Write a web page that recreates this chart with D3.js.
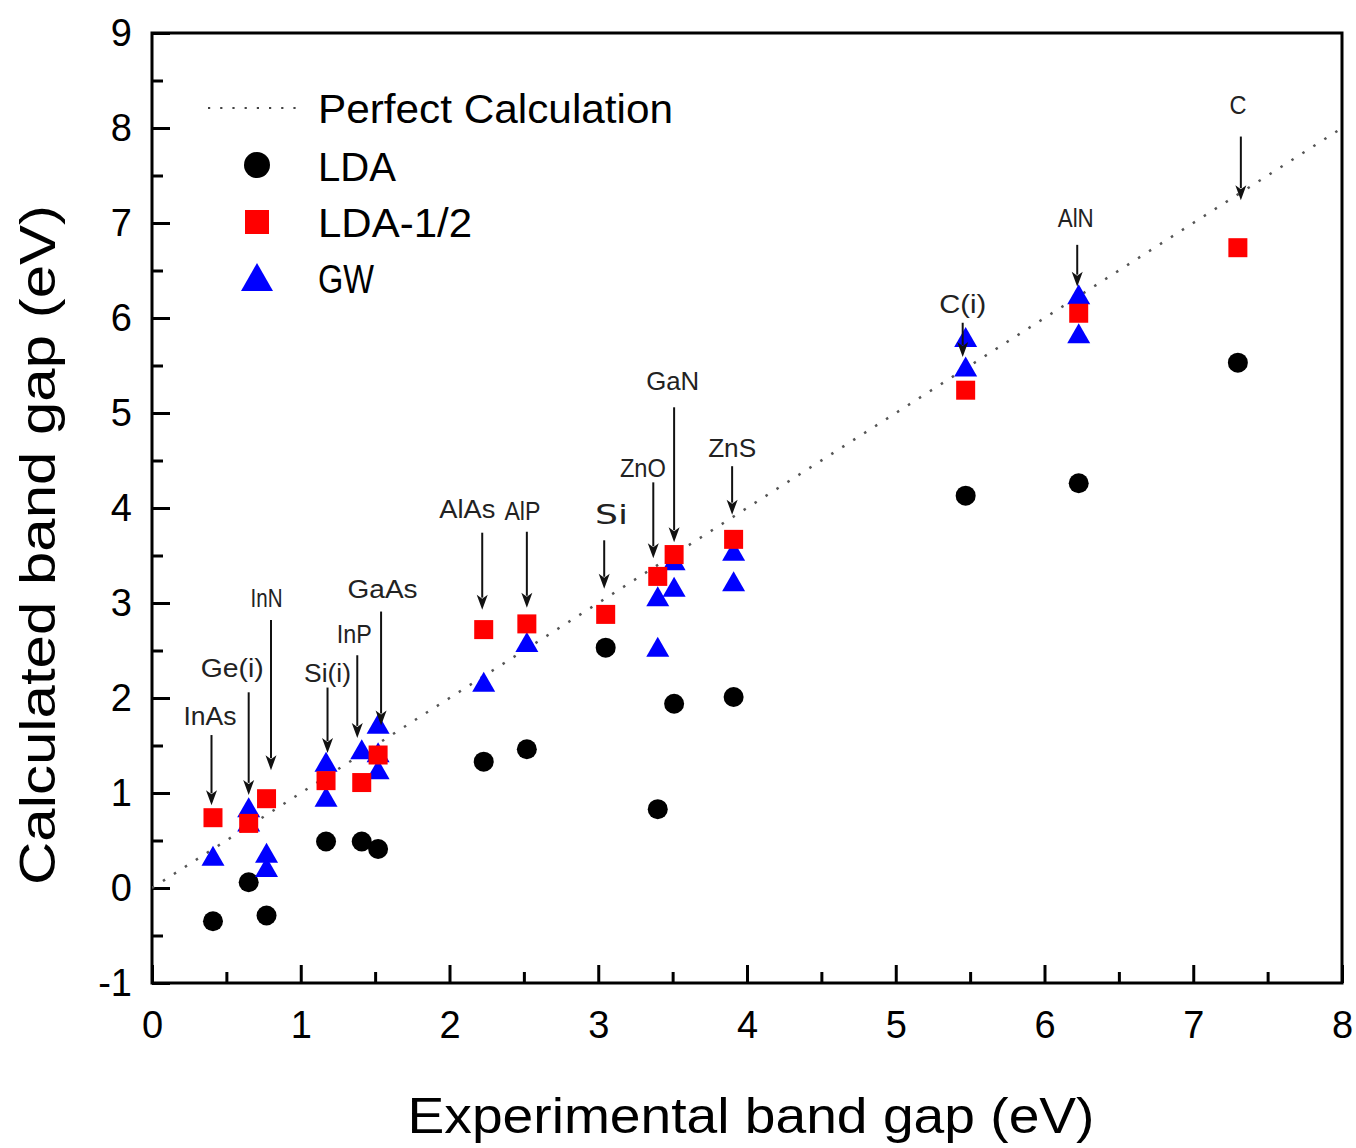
<!DOCTYPE html>
<html>
<head>
<meta charset="utf-8">
<script src="https://cdn.jsdelivr.net/npm/d3@7"></script>
<style>
  html, body { margin: 0; padding: 0; background: #fff; }
  svg { display: block; }
  text { font-family: "Liberation Sans", Arial, sans-serif; }
</style>
</head>
<body>
<svg id="chart" width="1356" height="1148"></svg>
<script>
// ---------------- data ----------------
const materials  = ["InAs","Ge(i)","InN","Si(i)","InP","GaAs","AlAs","AlP","Si","ZnO","GaN","ZnS","C(i)","AlN","C"];
const expGap     = [0.41, 0.65, 0.77, 1.17, 1.41, 1.52, 2.23, 2.52, 3.05, 3.40, 3.51, 3.91, 5.47, 6.23, 7.30];
const ldaGap     = [-0.35, 0.06, -0.29, 0.49, 0.49, 0.41, 1.33, 1.46, 2.53, 0.83, 1.94, 2.01, 4.13, 4.26, 5.53];
const ldaHalfGap = [0.74, 0.68, 0.94, 1.13, 1.11, 1.40, 2.72, 2.78, 2.88, 3.28, 3.51, 3.67, 5.24, 6.05, 6.74];

// GW: some materials have more than one reported value
const gwMaterial = ["InAs","Ge(i)","Ge(i)","InN","InN","Si(i)","Si(i)","InP","GaAs","GaAs","GaAs","AlAs","AlP","ZnO","ZnO","GaN","GaN","ZnS","ZnS","C(i)","C(i)","AlN","AlN"];
const gwGap      = [0.34, 0.85, 0.70, 0.37, 0.22, 1.33, 0.96, 1.46, 1.73, 1.43, 1.25, 2.17, 2.59, 3.07, 2.54, 3.45, 3.17, 3.55, 3.23, 5.80, 5.49, 6.25, 5.84];

// annotation (data units): label x, label baseline y, arrow x, arrow tail y, arrow tip y
const annLabelX = [0.39, 0.54, 0.77, 1.18, 1.36, 1.55, 2.12, 2.49, 3.09, 3.30, 3.50, 3.90, 5.45, 6.21, 7.30];
const annLabelY = [1.72, 2.22, 2.96, 2.17, 2.58, 3.05, 3.89, 3.87, 3.83, 4.33, 5.24, 4.54, 6.05, 6.96, 8.15];
const annArrowX = [0.40, 0.65, 0.80, 1.18, 1.38, 1.54, 2.22, 2.52, 3.04, 3.37, 3.51, 3.90, 5.45, 6.22, 7.32];
const annTail   = [1.61, 2.06, 2.82, 2.11, 2.45, 2.91, 3.74, 3.75, 3.66, 4.27, 5.06, 4.44, 5.95, 6.77, 7.91];
const annTip    = [0.87, 0.98, 1.24, 1.42, 1.58, 1.71, 2.93, 2.95, 3.15, 3.47, 3.64, 3.93, 5.59, 6.33, 7.24];

const xMajor = [0,1,2,3,4,5,6,7,8];
const xMinor = [0.5,1.5,2.5,3.5,4.5,5.5,6.5,7.5];
const yMajor = [-1,0,1,2,3,4,5,6,7,8,9];
const yMinor = [-0.5,0.5,1.5,2.5,3.5,4.5,5.5,6.5,7.5,8.5];

const legendLabels = ["Perfect Calculation","LDA","LDA-1/2","GW"];
const xTitle = "Experimental band gap (eV)";
const yTitle = "Calculated band gap (eV)";

// ---------------- chart ----------------
const svg = d3.select("#chart");
const L = 152, R = 1342, T = 33, B = 983;
const x = d3.scaleLinear().domain([0, 8]).range([L, R]);
const y = d3.scaleLinear().domain([-1, 9]).range([B, T]);

svg.append("defs").append("clipPath").attr("id", "plotclip")
  .append("rect").attr("x", L).attr("y", T).attr("width", R - L).attr("height", B - T);

// axes (ticks inward)
const fmt = d => String(d);
const gx = svg.append("g").attr("transform", `translate(0,${B})`)
  .call(d3.axisBottom(x).tickValues(xMajor).tickSize(-18).tickPadding(28).tickFormat(fmt));
const gxm = svg.append("g").attr("transform", `translate(0,${B})`)
  .call(d3.axisBottom(x).tickValues(xMinor).tickSize(-11).tickFormat(""));
const gy = svg.append("g").attr("transform", `translate(${L},0)`)
  .call(d3.axisLeft(y).tickValues(yMajor).tickSize(-18).tickPadding(20).tickFormat(fmt));
const gym = svg.append("g").attr("transform", `translate(${L},0)`)
  .call(d3.axisLeft(y).tickValues(yMinor).tickSize(-11).tickFormat(""));
[gx, gxm, gy, gym].forEach(g => {
  g.select(".domain").remove();
  g.selectAll(".tick line").attr("stroke", "#000").attr("stroke-width", 3);
  g.selectAll(".tick text").attr("fill", "#000").style("font-size", "38px")
    .style("font-family", '"Liberation Sans", Arial, sans-serif');
});

// frame
svg.append("rect").attr("x", L).attr("y", T).attr("width", R - L).attr("height", B - T)
  .attr("fill", "none").attr("stroke", "#000").attr("stroke-width", 3);

// perfect calculation line
svg.append("line").attr("clip-path", "url(#plotclip)")
  .attr("x1", x(0)).attr("y1", y(0)).attr("x2", x(8)).attr("y2", y(8))
  .attr("stroke", "#555").attr("stroke-width", 2.5)
  .attr("stroke-dasharray", "2.5,10.5").attr("stroke-linecap", "butt");

const plot = svg.append("g");

// LDA circles
plot.selectAll("circle.lda").data(materials).join("circle").attr("class", "lda")
  .attr("cx", (d, i) => x(expGap[i])).attr("cy", (d, i) => y(ldaGap[i]))
  .attr("r", 10).attr("fill", "#000");

// GW triangles
const triPath = (w, h) => `M0,${-h/2}L${w/2},${h/2}L${-w/2},${h/2}Z`;
plot.selectAll("path.gw").data(gwMaterial).join("path").attr("class", "gw")
  .attr("d", triPath(23, 20))
  .attr("transform", (d, i) => `translate(${x(expGap[materials.indexOf(d)])},${y(gwGap[i])})`)
  .attr("fill", "#0000ff");

// LDA-1/2 squares
plot.selectAll("rect.half").data(materials).join("rect").attr("class", "half")
  .attr("x", (d, i) => x(expGap[i]) - 9.5).attr("y", (d, i) => y(ldaHalfGap[i]) - 9.5)
  .attr("width", 19).attr("height", 19).attr("fill", "#ff0000");

// annotations (label widths as drawn in the original figure)
const labelWidthPx = [53, 63, 32, 47, 35, 70, 56, 36, 33, 46, 53, 48, 47, 36, 17];
const ann = svg.append("g");
materials.forEach((m, i) => {
  const ax = x(annArrowX[i]), y0 = y(annTail[i]), y1 = y(annTip[i]);
  ann.append("line").attr("x1", ax).attr("x2", ax).attr("y1", y0).attr("y2", y1 - 12)
    .attr("stroke", "#111").attr("stroke-width", 2);
  ann.append("path").attr("d", `M${ax},${y1}L${ax + 5.5},${y1 - 15}L${ax},${y1 - 11}L${ax - 5.5},${y1 - 15}Z`)
    .attr("fill", "#111");
  const t = ann.append("text").attr("x", x(annLabelX[i])).attr("y", y(annLabelY[i]))
    .attr("text-anchor", "middle").attr("fill", "#222")
    .attr("textLength", labelWidthPx[i]).attr("lengthAdjust", "spacingAndGlyphs").text(m);
  if (m === "Si") {
    t.style("font-family", '"DejaVu Sans", Verdana, sans-serif').style("font-size", "26px");
  } else {
    t.style("font-size", "25px");
  }
});

// legend
const lg = svg.append("g");
lg.append("line").attr("x1", 208).attr("x2", 304).attr("y1", 108).attr("y2", 108)
  .attr("stroke", "#444").attr("stroke-width", 2.2).attr("stroke-dasharray", "2.2,10");
lg.append("circle").attr("cx", 257).attr("cy", 165).attr("r", 13).attr("fill", "#000");
lg.append("rect").attr("x", 245).attr("y", 210).attr("width", 24).attr("height", 24).attr("fill", "#ff0000");
lg.append("path").attr("d", triPath(32, 28)).attr("transform", "translate(257,277)").attr("fill", "#0000ff");
const lgY = [123, 181, 237, 293];
const lgW = [355, 78, 154, 56];
legendLabels.forEach((s, i) => {
  lg.append("text").attr("x", 318).attr("y", lgY[i]).attr("fill", "#000")
    .attr("textLength", lgW[i]).attr("lengthAdjust", "spacingAndGlyphs")
    .style("font-size", "40px").text(s);
});

// axis titles
svg.append("text").attr("x", 751).attr("y", 1133).attr("text-anchor", "middle")
  .attr("textLength", 687).attr("lengthAdjust", "spacingAndGlyphs")
  .style("font-size", "50px").attr("fill", "#000").text(xTitle);
svg.append("text").attr("transform", "translate(55,545) rotate(-90)").attr("text-anchor", "middle")
  .attr("textLength", 680).attr("lengthAdjust", "spacingAndGlyphs")
  .style("font-size", "50px").attr("fill", "#000").text(yTitle);
</script>
</body>
</html>
